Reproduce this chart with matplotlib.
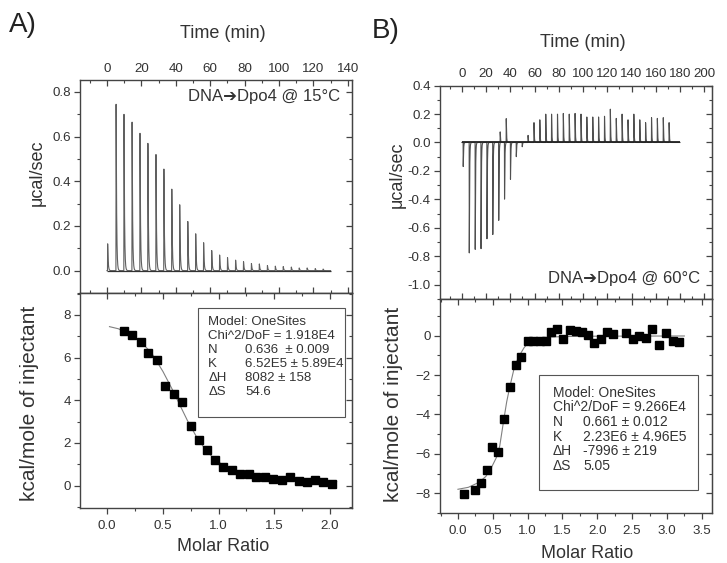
import numpy as np
import matplotlib.pyplot as plt
from matplotlib.ticker import MultipleLocator
from matplotlib.patches import Rectangle

plt.rcParams['font.family'] = ['Liberation Sans', 'DejaVu Sans']

# ---------------- DATA: panel A (15 C) ----------------
# raw thermogram: injection times (min) and peak heights (ucal/sec)
tA_inj = [0.3, 5.2, 9.8, 14.5, 19.1, 23.7, 28.4, 33.0, 37.6, 42.2, 46.9, 51.5, 56.1,
          60.8, 65.4, 70.0, 74.7, 79.3, 83.9, 88.5, 93.2, 97.8, 102.4, 107.1,
          111.7, 116.3, 121.0, 125.6]
hA_inj = [0.12, 0.745, 0.70, 0.665, 0.615, 0.57, 0.52, 0.455, 0.365, 0.295, 0.22,
          0.165, 0.125, 0.09, 0.07, 0.058, 0.047, 0.040, 0.032, 0.030, 0.023,
          0.020, 0.018, 0.016, 0.012, 0.012, 0.009, 0.007]
tA_end = 130.0

# integrated heats
xA = [0.15, 0.22, 0.30, 0.37, 0.45, 0.52, 0.60, 0.67, 0.75, 0.82, 0.90, 0.97, 1.04,
      1.12, 1.19, 1.27, 1.34, 1.42, 1.49, 1.57, 1.64, 1.72, 1.79, 1.87, 1.94, 2.02]
yA = [7.26, 7.07, 6.72, 6.23, 5.87, 4.68, 4.31, 3.93, 2.81, 2.14, 1.66, 1.22, 0.86,
      0.74, 0.55, 0.53, 0.41, 0.41, 0.30, 0.27, 0.38, 0.22, 0.17, 0.24, 0.16, 0.06]
# fitted curve
fitA_x = [0.02, 0.10, 0.20, 0.30, 0.40, 0.50, 0.58, 0.65, 0.72, 0.80, 0.88, 0.96,
          1.05, 1.15, 1.30, 1.50, 1.70, 1.90, 2.06]
fitA_y = [7.45, 7.35, 7.10, 6.75, 6.20, 5.35, 4.55, 3.80, 3.05, 2.30, 1.70, 1.25,
          0.92, 0.70, 0.50, 0.35, 0.27, 0.22, 0.19]
boxA = ['Model: OneSites', 'Chi^2/DoF = 1.918E4']
parA = [('N', '0.636  \u00b1 0.009'), ('K', '6.52E5 \u00b1 5.89E4'),
        ('\u0394H', '8082 \u00b1 158'), ('\u0394S', '54.6')]

# ---------------- DATA: panel B (60 C) ----------------
tB_inj = [1.0, 6.0, 10.9, 15.7, 20.6, 25.4, 30.3, 35.1, 40.0, 44.8, 49.7, 54.5, 59.4,
          64.2, 69.1, 73.9, 78.8, 83.6, 88.5, 93.3, 98.2, 103.0, 107.9, 112.7,
          117.6, 122.4, 127.3, 132.1, 137.0, 141.8, 146.7, 151.5, 156.4, 161.2,
          166.1, 170.9]
hB_inj = [-0.17, -0.78, -0.755, -0.75, -0.68, -0.65, -0.55, -0.40, -0.26, -0.10,
          -0.03, 0.05, 0.14, 0.16, 0.20, 0.20, 0.20, 0.205, 0.20, 0.205, 0.20,
          0.18, 0.18, 0.18, 0.185, 0.235, 0.17, 0.20, 0.16, 0.20, 0.16, 0.14,
          0.175, 0.17, 0.175, 0.14]
# small positive spikes during the binding phase
tB_art = [31.5, 36.5]
hB_art = [0.08, 0.17]
tB_end = 180.0

xB = [0.08, 0.245, 0.33, 0.42, 0.495, 0.576, 0.66, 0.744, 0.83, 0.91, 1.00, 1.08,
      1.175, 1.26, 1.34, 1.42, 1.51, 1.61, 1.70, 1.78, 1.87, 1.96, 2.05, 2.14,
      2.22, 2.41, 2.51, 2.60, 2.70, 2.79, 2.88, 2.98, 3.08, 3.17]
yB = [-8.04, -7.85, -7.49, -6.82, -5.65, -5.93, -4.22, -2.58, -1.47, -1.10, -0.25,
      -0.25, -0.29, -0.25, 0.17, 0.34, -0.15, 0.29, 0.22, 0.19, 0.05, -0.39, -0.18,
      0.18, 0.08, 0.14, -0.15, 0.0, -0.10, 0.36, -0.46, 0.14, -0.29, -0.31]
fitB_x = [0.0, 0.15, 0.30, 0.40, 0.48, 0.55, 0.60, 0.66, 0.70, 0.744, 0.80, 0.85,
          0.90, 0.95, 1.00, 1.10, 1.25, 1.50, 2.00, 3.25]
fitB_y = [-7.80, -7.70, -7.45, -7.15, -6.70, -6.20, -5.60, -4.22, -3.35, -2.60,
          -1.75, -1.25, -0.90, -0.60, -0.40, -0.18, -0.08, -0.04, -0.02, -0.01]
boxB = ['Model: OneSites', 'Chi^2/DoF = 9.266E4']
parB = [('N', '0.661 \u00b1 0.012'), ('K', '2.23E6 \u00b1 4.96E5'),
        ('\u0394H', '-7996 \u00b1 219'), ('\u0394S', '5.05')]

INK = '#333333'
ARROW = '\u2794'


def trace(t_inj, h_inj, t_end, tau):
    # sum of sharp-rise / exponential-decay injection peaks
    t = np.arange(0, t_end, 0.02)
    s_ref = np.arange(0, 5, 0.001)
    norm = np.max((1 - np.exp(-s_ref / 0.05)) * np.exp(-s_ref / tau))
    y = np.zeros_like(t)
    for t0, h in zip(t_inj, h_inj):
        s = t - t0
        m = s >= 0
        y[m] += h * (1 - np.exp(-s[m] / 0.05)) * np.exp(-s[m] / tau) / norm
    return t, y


def base_style(ax):
    for sp in ax.spines.values():
        sp.set_color('#444444')
        sp.set_linewidth(1.0)
    ax.tick_params(which='both', colors='#444444', labelcolor=INK, labelsize=9.6)
    ax.tick_params(which='major', length=4.5, width=0.9)
    ax.tick_params(which='minor', length=2.5, width=0.8)


def right_ticks(ax, major, minor):
    sec = ax.secondary_yaxis('right')
    sec.yaxis.set_major_locator(MultipleLocator(major))
    sec.yaxis.set_minor_locator(MultipleLocator(minor))
    sec.tick_params(which='both', direction='in', labelright=False, colors='#444444')
    sec.tick_params(which='major', length=4.5, width=0.9)
    sec.tick_params(which='minor', length=2.5, width=0.8)
    sec.spines['right'].set_color('#444444')


def top_panel(ax, t_inj, h_inj, t_end, tau, xlim, xmaj, ylim, lw, color):
    t, y = trace(t_inj, h_inj, t_end, tau)
    ax.plot(t, y, color=color, lw=lw)
    ax.set_xlim(*xlim)
    ax.set_ylim(*ylim)
    base_style(ax)
    ax.xaxis.set_major_locator(MultipleLocator(xmaj))
    ax.xaxis.set_minor_locator(MultipleLocator(xmaj / 2))
    ax.yaxis.set_major_locator(MultipleLocator(0.2))
    ax.yaxis.set_minor_locator(MultipleLocator(0.1))
    ax.yaxis.set_major_formatter(plt.FormatStrFormatter('%.1f'))
    ax.tick_params(axis='x', which='both', direction='in', top=True, bottom=True,
                   labeltop=True, labelbottom=False, pad=4)
    ax.tick_params(axis='y', which='both', direction='out', left=True, right=False, pad=2)
    right_ticks(ax, 0.2, 0.1)
    return t


def bottom_panel(ax, x, y, fx, fy, xlim, ylim, box, par, box_rect, tx0, tx1, ty0, dy, fs):
    ax.plot(fx, fy, color='#808080', lw=0.8)
    ax.plot(x, y, 's', color='black', ms=5.4)
    ax.set_xlim(*xlim)
    ax.set_ylim(*ylim)
    base_style(ax)
    ax.xaxis.set_major_locator(MultipleLocator(0.5))
    ax.xaxis.set_minor_locator(MultipleLocator(0.25))
    ax.xaxis.set_major_formatter(plt.FormatStrFormatter('%.1f'))
    ax.yaxis.set_major_locator(MultipleLocator(2))
    ax.yaxis.set_minor_locator(MultipleLocator(1))
    ax.tick_params(axis='x', which='both', direction='out', top=False, pad=4)
    ax.tick_params(axis='y', which='both', direction='out', right=False, pad=2)
    secx = ax.secondary_xaxis('top')
    secx.xaxis.set_major_locator(MultipleLocator(0.5))
    secx.xaxis.set_minor_locator(MultipleLocator(0.25))
    secx.tick_params(which='both', direction='in', labeltop=False, colors='#444444')
    secx.tick_params(which='major', length=4.5, width=0.9)
    secx.tick_params(which='minor', length=2.5, width=0.8)
    right_ticks(ax, 2, 1)
    x0, y0, x1, y1 = box_rect
    ax.add_patch(Rectangle((x0, y0), x1 - x0, y1 - y0, transform=ax.transAxes,
                           fill=False, ec='#555555', lw=0.8))
    for i, line in enumerate(box):
        ax.text(tx0, ty0 - i * dy, line, transform=ax.transAxes, fontsize=fs,
                color=INK, va='center', ha='left')
    for j, (name, val) in enumerate(par):
        yy = ty0 - (j + 2) * dy
        ax.text(tx0, yy, name, transform=ax.transAxes, fontsize=fs, color=INK,
                va='center', ha='left')
        ax.text(tx1, yy, val, transform=ax.transAxes, fontsize=fs, color=INK,
                va='center', ha='left')


fig = plt.figure(figsize=(7.27, 5.63), dpi=100)
axA1 = fig.add_axes([0.110, 0.4796, 0.374, 0.378])
axA2 = fig.add_axes([0.110, 0.0977, 0.374, 0.382])
axB1 = fig.add_axes([0.605, 0.469, 0.3737, 0.379])
axB2 = fig.add_axes([0.605, 0.0883, 0.3737, 0.381])

top_panel(axA1, tA_inj, hA_inj, tA_end, 0.28, (-15.7, 142.4), 20, (-0.1, 0.852), 0.8, '#606060')
top_panel(axB1, tB_inj + tB_art, hB_inj + hB_art, tB_end, 0.25, (-18.2, 206), 20, (-1.1, 0.4), 0.8, '#505050')
# the 60 C baseline is noisy in the original: draw it heavier
axB1.hlines(0, 0, tB_end, color='#222222', lw=1.3, zorder=3)
axA1.hlines(0, 0, tA_end, color='#333333', lw=0.9, zorder=3)

bottom_panel(axA2, xA, yA, fitA_x, fitA_y, (-0.245, 2.197), (-1.05, 9.03), boxA, parA,
             (0.435, 0.425, 0.974, 0.929), 0.472, 0.607, 0.864, 0.0647, 9.5)
bottom_panel(axB2, xB, yB, fitB_x, fitB_y, (-0.26, 3.64), (-9.02, 1.88), boxB, parB,
             (0.364, 0.109, 0.95, 0.645), 0.415, 0.527, 0.563, 0.0686, 10)

axA1.text(0.956, 0.921, 'DNA' + ARROW + 'Dpo4 @ 15\u00b0C', transform=axA1.transAxes,
          ha='right', va='center', fontsize=12, color=INK)
axB1.text(0.957, 0.098, 'DNA' + ARROW + 'Dpo4 @ 60\u00b0C', transform=axB1.transAxes,
          ha='right', va='center', fontsize=12, color=INK)

# axis titles and panel letters
fig.text(0.307, 0.941, 'Time (min)', ha='center', va='center', fontsize=13, color=INK)
fig.text(0.802, 0.924, 'Time (min)', ha='center', va='center', fontsize=13, color=INK)
fig.text(0.307, 0.029, 'Molar Ratio', ha='center', va='center', fontsize=13, color=INK)
fig.text(0.807, 0.016, 'Molar Ratio', ha='center', va='center', fontsize=13, color=INK)
fig.text(0.051, 0.694, '\u03bccal/sec', rotation=90, ha='center', va='center', fontsize=13, color=INK)
fig.text(0.546, 0.689, '\u03bccal/sec', rotation=90, ha='center', va='center', fontsize=13, color=INK)
fig.text(0.041, 0.284, 'kcal/mole of injectant', rotation=90, ha='center', va='center', fontsize=15, color=INK)
fig.text(0.5406, 0.281, 'kcal/mole of injectant', rotation=90, ha='center', va='center', fontsize=15, color=INK)
fig.text(0.012, 0.955, 'A)', ha='left', va='center', fontsize=20, color='#222222')
fig.text(0.511, 0.945, 'B)', ha='left', va='center', fontsize=20, color='#222222')

fig.savefig('out.png', dpi=100)
